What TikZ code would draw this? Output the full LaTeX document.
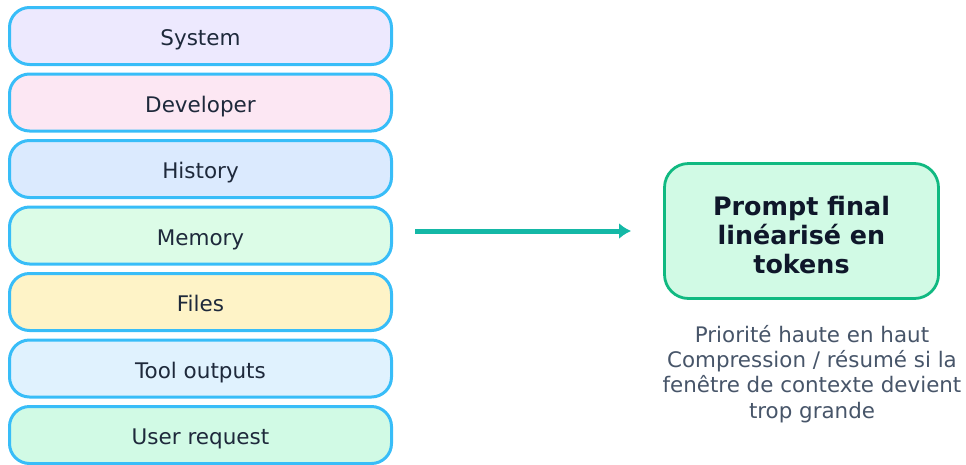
\documentclass[tikz,border=0pt]{standalone}
\usepackage{fontspec}
\setmainfont{DejaVu Sans}
\usepackage{xcolor}
\usetikzlibrary{
    arrows.meta,
    positioning,
    calc
}

\definecolor{edgeblue}{HTML}{38BDF8}
\definecolor{edgegreen}{HTML}{10B981}
\definecolor{arrowteal}{HTML}{14B8A6}
\definecolor{inkdark}{HTML}{1E293B}
\definecolor{inkbold}{HTML}{0F172A}
\definecolor{inkgray}{HTML}{475569}
\definecolor{sysfill}{HTML}{EDE9FE}
\definecolor{devfill}{HTML}{FCE7F3}
\definecolor{histfill}{HTML}{DBEAFE}
\definecolor{memfill}{HTML}{DCFCE7}
\definecolor{filesfill}{HTML}{FEF3C7}
\definecolor{toolfill}{HTML}{E0F2FE}
\definecolor{userfill}{HTML}{D1FAE5}

\tikzset{
    layer/.style={draw=edgeblue, line width=3pt, rounded corners=20pt,
        minimum width=382pt, minimum height=57pt, inner sep=0pt,
        text height=21pt, text depth=1.5pt,
        text=inkdark, font=\fontsize{21.5}{25}\selectfont},
    finalbox/.style={draw=edgegreen, fill=userfill, line width=2.8pt,
        rounded corners=24pt, minimum width=274pt, minimum height=135pt,
        align=center, text=inkbold,
        font=\fontsize{25.4}{29}\selectfont\bfseries},
    note/.style={align=center, text=inkgray,
        font=\fontsize{21.4}{25.3}\selectfont}
}

\begin{document}
\begin{tikzpicture}[x=1pt, y=-1pt]
                \useasboundingbox (0, 0) rectangle (966, 464);
                % context stack, top priority first
                \foreach \txt/\col [count=\i from 0] in {System/sysfill, Developer/devfill,
                    History/histfill, Memory/memfill, Files/filesfill,
                    Tool outputs/toolfill, User request/userfill}{
                    \node [layer, fill=\col] (layer\i) at (200.5, 36 + 66.5*\i) {\txt};
                }
                \node [finalbox, text height=84pt, text depth=0pt] (final) at (801.5, 231)
                    {Prompt final\\linéarisé en\\tokens};
                \draw [-{Latex[length=12pt, width=16pt]}, line width=5pt, arrowteal,
                    shorten <=22pt, shorten >=32pt]
                    (layer3.east |- final.west) -- (final.west);
                \node [note] (notes) at (812, 374) {Priorité haute en haut\\Compression / résumé si la\\fenêtre de contexte devient\\trop grande};
            \end{tikzpicture}
\end{document}
